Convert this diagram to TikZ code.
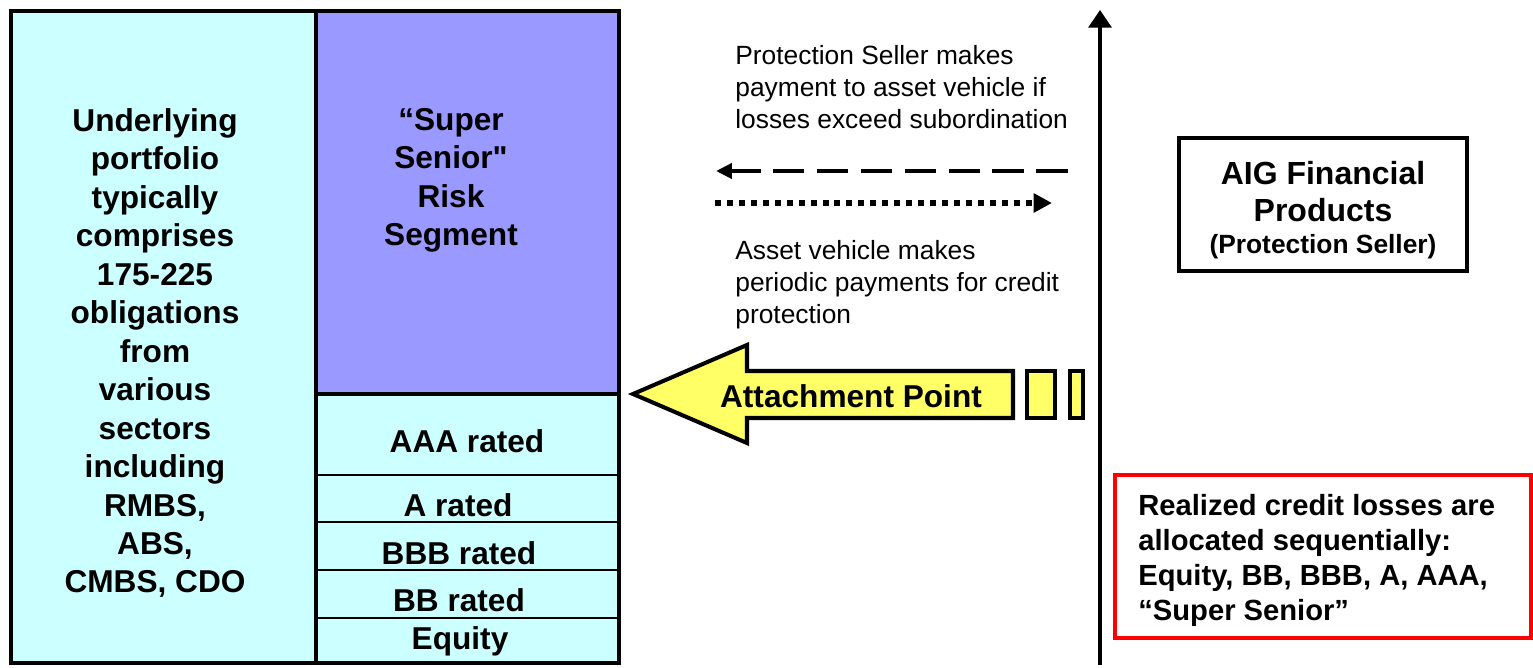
\documentclass[tikz,border=0pt]{standalone}
\usepackage{fontspec}
\setmainfont{Liberation Sans}[Ligatures=TeXOff]
\usetikzlibrary{positioning,arrows.meta}
\definecolor{tranchecyan}{HTML}{CCFFFF}
\definecolor{seniorblue}{HTML}{9999FF}
\definecolor{attachyellow}{HTML}{FFFF66}
\tikzset{
  thickline/.style={line width=2.3pt},
  thinline/.style={line width=1.1pt},
  blocktext/.style={font=\bfseries\fontsize{18}{21.9}\selectfont, align=center, inner sep=0pt, anchor=north},
  ratedtext/.style={font=\bfseries\fontsize{18}{21.9}\selectfont, inner sep=0pt, anchor=base},
  flowtext/.style={font=\fontsize{15}{18.2}\selectfont, align=left, inner sep=0pt, anchor=north west}
}
\begin{document}
\begin{tikzpicture}[x=0.02cm,y=-0.02cm]
  \useasboundingbox (0,0) rectangle (1533,668);
  \fill[tranchecyan] (11,11) rectangle (619,663);
  \fill[seniorblue] (316,11) rectangle (619,394);
  \draw[thinline] (316,475) -- (619,475);
  \draw[thinline] (316,522) -- (619,522);
  \draw[thinline] (316,570) -- (619,570);
  \draw[thinline] (316,618) -- (619,618);
  \draw[thickline] (11,11) rectangle (619,663);
  \draw[thickline] (316,11) -- (316,663);
  \draw[thickline] (316,394) -- (619,394);
  \node[blocktext] (portfolio) at (155,108) {Underlying\\portfolio\\typically\\comprises\\175-225\\obligations\\from\\various\\sectors\\including\\RMBS,\\ABS,\\CMBS, CDO};
  \node[blocktext] (senior) at (451,108) {“Super\\Senior"\\Risk\\Segment};
  \node[ratedtext] (aaa) at (467,452) {AAA rated};
  \node[ratedtext] (arated) at (458,516) {A rated};
  \node[ratedtext] (bbb) at (459,564) {BBB rated};
  \node[ratedtext] (bb) at (459,611) {BB rated};
  \node[ratedtext] (equity) at (460,649) {Equity};
  \draw[thickline, fill=attachyellow, line join=miter] (633,394) -- (747,345) -- (747,371) -- (1013,371) -- (1013,418) -- (747,418) -- (747,443) -- cycle;
  \draw[thickline, fill=attachyellow] (1027,371) rectangle (1055,418);
  \draw[thickline, fill=attachyellow] (1070,371) rectangle (1083,418);
  \node[ratedtext] (attach) at (851,407) {Attachment Point};
  \draw[line width=2pt, -{Triangle[width=13pt,length=10pt]}] (1100,665) -- (1100,10);
  \coordinate (payR) at (1068,171);
  \coordinate (payL) at (716,171);
  \coordinate (feeL) at (715,203);
  \coordinate (feeR) at (1052,203);
  \draw[line width=2.2pt, dash pattern=on 18pt off 7pt, -{Triangle[width=8.5pt,length=9pt]}] (payR) -- (payL);
  \draw[line width=3.4pt, dash pattern=on 3.4pt off 3.4pt, -{Triangle[width=10.5pt,length=10.5pt]}] (feeL) -- (feeR);
  \node[flowtext] (sellerpays) at (735,45) {Protection Seller makes\\payment to asset vehicle if\\losses exceed subordination};
  \node[flowtext] (vehiclepays) at (735,240) {Asset vehicle makes\\periodic payments for credit\\protection};
  \node[draw, thickline, minimum width=5.76cm, minimum height=2.66cm] (aig) at (1323,204.5) {};
  \node[align=center, inner sep=0pt, font=\bfseries\fontsize{18.2}{22.2}\selectfont] (aigtext) at (1323,210)
    {AIG Financial\\[-1pt]Products\\[-4pt]{\fontsize{15}{18}\selectfont(Protection Seller)}};
  \node[draw=red, thickline, minimum width=8.32cm, minimum height=3.26cm] (lossbox) at (1323,556.5) {};
  \node[font=\bfseries\fontsize{16.6}{20}\selectfont, align=left, inner sep=0pt, anchor=north west] (losstext) at (1138,494)
    {Realized credit losses are\\allocated sequentially:\\Equity, BB, BBB, A, AAA,\\“Super Senior”};
\end{tikzpicture}
\end{document}
